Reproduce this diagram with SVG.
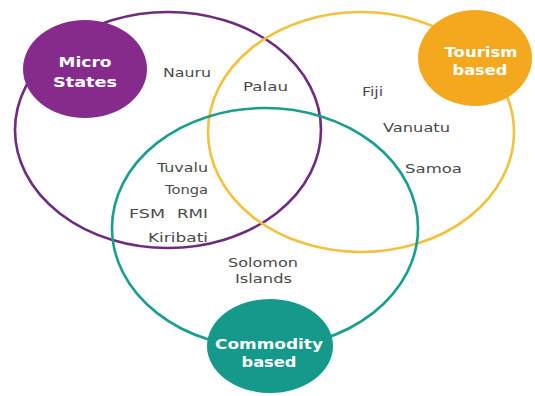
<svg xmlns="http://www.w3.org/2000/svg" width="535" height="396" viewBox="0 0 535 396">
<style>
.ring{fill:none;stroke-width:2.6}
.lbl{font-family:"DejaVu Sans",sans-serif;font-size:12.5px;fill:#4a4a4a}
.hd{font-family:"DejaVu Sans",sans-serif;font-size:13.5px;font-weight:bold;fill:#ffffff;text-anchor:middle}
</style>
<rect width="535" height="396" fill="#ffffff"/>
<g id="connectors">
<ellipse id="ring-micro" class="ring" cx="168" cy="130" rx="153" ry="118" stroke="#6e2c80"/>
<ellipse id="ring-tourism" class="ring" cx="361" cy="132" rx="153" ry="120" stroke="#f2c23e"/>
<ellipse id="ring-commodity" class="ring" cx="265" cy="228" rx="153" ry="120" stroke="#1a9e8e"/>
</g>
<g id="node-micro">
<ellipse cx="85" cy="69" rx="62" ry="49" fill="#862a8c"/>
<text class="hd" x="85" y="67" textLength="53" lengthAdjust="spacingAndGlyphs">Micro</text>
<text class="hd" x="85" y="87" textLength="64" lengthAdjust="spacingAndGlyphs">States</text>
</g>
<g id="node-tourism">
<ellipse cx="475" cy="58" rx="57" ry="48" fill="#f4a81d"/>
<text class="hd" x="481" y="57" textLength="73" lengthAdjust="spacingAndGlyphs">Tourism</text>
<text class="hd" x="480" y="75" textLength="55" lengthAdjust="spacingAndGlyphs">based</text>
</g>
<g id="node-commodity">
<ellipse cx="270" cy="346" rx="63" ry="47" fill="#14998a"/>
<text class="hd" x="269" y="349" textLength="108" lengthAdjust="spacingAndGlyphs">Commodity</text>
<text class="hd" x="269" y="367" textLength="55" lengthAdjust="spacingAndGlyphs">based</text>
</g>
<g id="labels">
<text id="nauru" class="lbl" x="163" y="77" textLength="48" lengthAdjust="spacingAndGlyphs">Nauru</text>
<text id="palau" class="lbl" x="243" y="91" textLength="45" lengthAdjust="spacingAndGlyphs">Palau</text>
<text id="fiji" class="lbl" x="362" y="96" textLength="21" lengthAdjust="spacingAndGlyphs">Fiji</text>
<text id="vanuatu" class="lbl" x="383" y="132" textLength="67" lengthAdjust="spacingAndGlyphs">Vanuatu</text>
<text id="samoa" class="lbl" x="405" y="173" textLength="57" lengthAdjust="spacingAndGlyphs">Samoa</text>
<text id="tuvalu" class="lbl" x="157" y="172" textLength="51" lengthAdjust="spacingAndGlyphs">Tuvalu</text>
<text id="tonga" class="lbl" x="165" y="194" textLength="43" lengthAdjust="spacingAndGlyphs">Tonga</text>
<text id="fsm" class="lbl" x="129" y="218" textLength="36" lengthAdjust="spacingAndGlyphs">FSM</text>
<text id="rmi" class="lbl" x="177" y="218" textLength="31" lengthAdjust="spacingAndGlyphs">RMI</text>
<text id="kiribati" class="lbl" x="148" y="242" textLength="60" lengthAdjust="spacingAndGlyphs">Kiribati</text>
<text id="solomon" class="lbl" x="228" y="267" textLength="70" lengthAdjust="spacingAndGlyphs">Solomon</text>
<text id="islands" class="lbl" x="235" y="283" textLength="57" lengthAdjust="spacingAndGlyphs">Islands</text>
</g>
</svg>
